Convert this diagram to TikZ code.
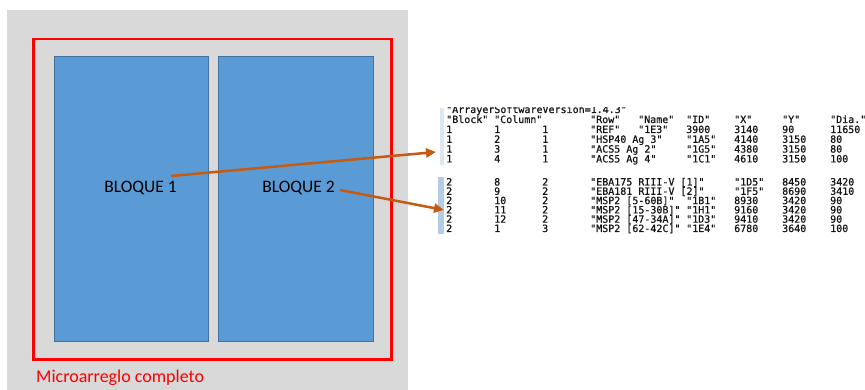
\documentclass[tikz,border=0pt]{standalone}
\usepackage{fontspec}
\setmainfont{Carlito}
\newfontfamily\tabfont[FakeBold=0.7]{DejaVu Sans Mono}
\usetikzlibrary{arrows.meta}

\definecolor{panelgray}{HTML}{D9D9D9}
\definecolor{blockblue}{HTML}{5B9BD5}
\definecolor{blockedge}{HTML}{41719C}
\definecolor{linkorange}{HTML}{C55A11}
\definecolor{barpale}{HTML}{DCE7F3}
\definecolor{barblue}{HTML}{B4CDE7}
\definecolor{tabink}{HTML}{141414}

% one tab-aligned cell of the exported text file
\newcommand{\tcell}[2]{\makebox[#1pt][l]{#2}}

\tikzset{
  panel/.style={fill=panelgray, draw=none},
  frame/.style={draw=red, line width=2.5pt},
  blockbox/.style={fill=blockblue, draw=blockedge, line width=0.8pt},
  blocklabel/.style={font=\fontsize{17.5}{20}\selectfont, text=black, inner sep=0pt, anchor=base},
  framelabel/.style={font=\fontsize{18}{20}\selectfont, text=red, inner sep=0pt, anchor=base west},
  tabline/.style={font=\tabfont\fontsize{10}{10}\selectfont, text=tabink, inner sep=0pt, anchor=base west},
  link/.style={draw=linkorange, line width=2.5pt, -{Triangle[length=10pt,width=9pt]}},
}

\begin{document}
\begin{tikzpicture}[x=1pt,y=-1pt]
\useasboundingbox (0,0) rectangle (865,390);
\fill[white] (0,0) rectangle (865,390);

% microarray panel
\path[panel] (7,10) rectangle (408,390);
\draw[frame] (33.5,39) rectangle (391.5,359.5);
\node[blockbox, minimum width=154pt, minimum height=284.5pt, anchor=north west, inner sep=0pt] (b1) at (54,56) {};
\node[blockbox, minimum width=155pt, minimum height=284.5pt, anchor=north west, inner sep=0pt] (b2) at (217.5,56) {};
\node[blocklabel] (l1) at (140.5,192.5) {BLOQUE 1};
\node[blocklabel] (l2) at (298.5,192.5) {BLOQUE 2};
\node[framelabel] (lf) at (36,382.5) {Microarreglo completo};

% selection bars of the text listing
\fill[barpale] (440,108) rectangle (443.5,165);
\fill[barblue] (438,177) rectangle (443.5,234);

% listing, block 1 (first line cut at the top)
\begin{scope}
\clip (430,107.5) rectangle (865,390);
\node[tabline] (r0) at (446,113) {"ArrayerSoftwareVersion=1.4.3"};
\end{scope}
\node[tabline] (r1) at (446,123) {\tcell{48}{"Block"}\tcell{96}{"Column"}\tcell{48}{"Row"}\tcell{48}{"Name"}\tcell{48}{"ID"}\tcell{48}{"X"}\tcell{48}{"Y"}"Dia."};
\node[tabline] (r2) at (446,133) {\tcell{48}{1}\tcell{48}{1}\tcell{48}{1}\tcell{48}{"REF"}\tcell{48}{"1E3"}\tcell{48}{3900}\tcell{48}{3140}\tcell{48}{90}11650};
\node[tabline] (r3) at (446,142.8) {\tcell{48}{1}\tcell{48}{2}\tcell{48}{1}\tcell{96}{"HSP40 Ag 3"}\tcell{48}{"1A5"}\tcell{48}{4140}\tcell{48}{3150}80};
\node[tabline] (r4) at (446,152.6) {\tcell{48}{1}\tcell{48}{3}\tcell{48}{1}\tcell{96}{"ACS5 Ag 2"}\tcell{48}{"1G5"}\tcell{48}{4380}\tcell{48}{3150}80};
\node[tabline] (r5) at (446,162.4) {\tcell{48}{1}\tcell{48}{4}\tcell{48}{1}\tcell{96}{"ACS5 Ag 4"}\tcell{48}{"1C1"}\tcell{48}{4610}\tcell{48}{3150}100};

% listing, block 2
\node[tabline] (s1) at (446,185.5) {\tcell{48}{2}\tcell{48}{8}\tcell{48}{2}\tcell{144}{"EBA175 RIII-V [1]"}\tcell{48}{"1D5"}\tcell{48}{8450}3420};
\node[tabline] (s2) at (446,194.8) {\tcell{48}{2}\tcell{48}{9}\tcell{48}{2}\tcell{144}{"EBA181 RIII-V [2]"}\tcell{48}{"1F5"}\tcell{48}{8690}3410};
\node[tabline] (s3) at (446,204.1) {\tcell{48}{2}\tcell{48}{10}\tcell{48}{2}\tcell{96}{"MSP2 [5-60B]"}\tcell{48}{"1B1"}\tcell{48}{8930}\tcell{48}{3420}90};
\node[tabline] (s4) at (446,213.4) {\tcell{48}{2}\tcell{48}{11}\tcell{48}{2}\tcell{96}{"MSP2 [15-30B]"}\tcell{48}{"1H1"}\tcell{48}{9160}\tcell{48}{3420}90};
\node[tabline] (s5) at (446,222.7) {\tcell{48}{2}\tcell{48}{12}\tcell{48}{2}\tcell{96}{"MSP2 [47-34A]"}\tcell{48}{"1D3"}\tcell{48}{9410}\tcell{48}{3420}90};
\node[tabline] (s6) at (446,232) {\tcell{48}{2}\tcell{48}{1}\tcell{48}{3}\tcell{96}{"MSP2 [62-42C]"}\tcell{48}{"1E4"}\tcell{48}{6780}\tcell{48}{3640}100};

% links from each block to its rows
\coordinate (src1) at (171,176);
\coordinate (tip1) at (436,152);
\coordinate (src2) at (340,190);
\coordinate (tip2) at (444,210);
\draw[link] (src1) -- (tip1);
\draw[link] (src2) -- (tip2);
\end{tikzpicture}
\end{document}
